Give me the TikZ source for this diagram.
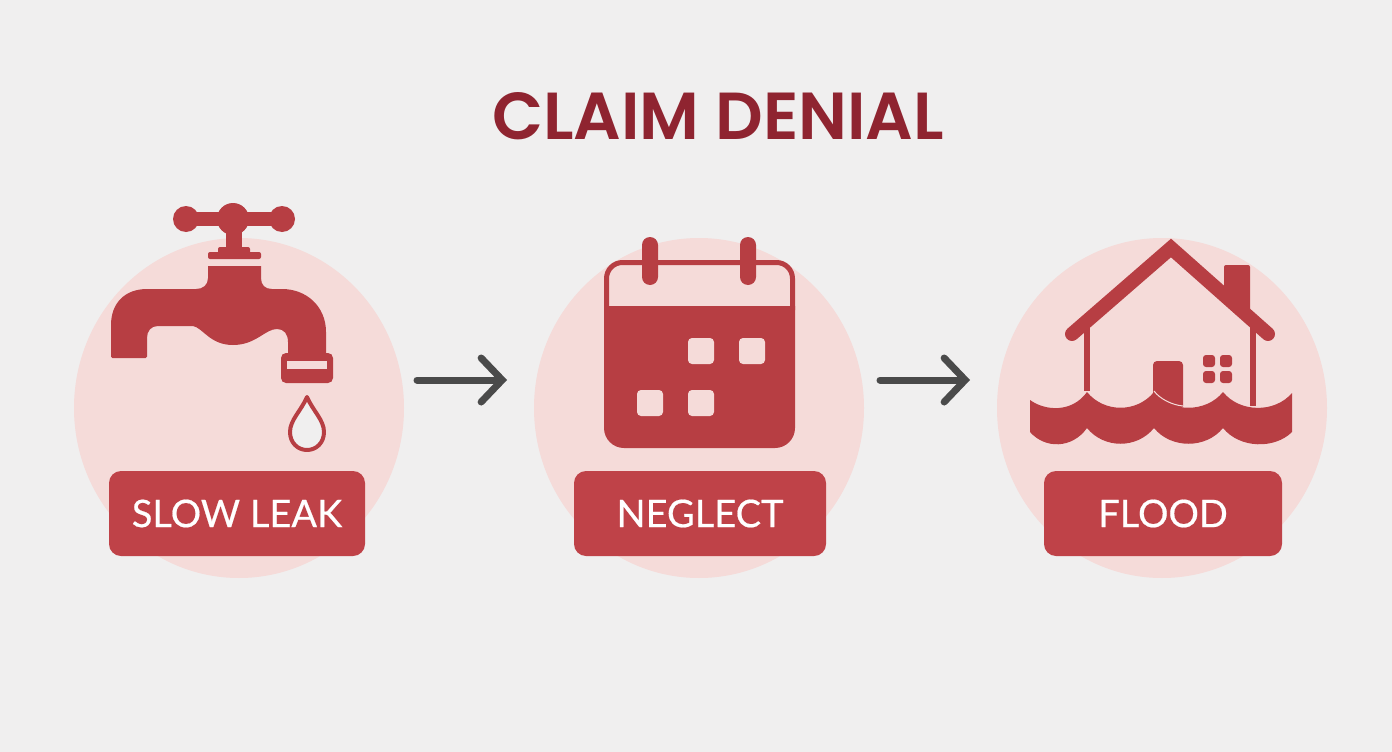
\documentclass[tikz,border=0pt]{standalone}
\usepackage{fontspec}
\setmainfont{Lato}
\newfontfamily\tagfont[FakeBold=0.5]{Lato}
\newfontfamily\titlefont{Poppins SemiBold}
\usepackage{tikz}
\usetikzlibrary{arrows.meta,shapes.geometric}
\definecolor{pagebg}{HTML}{F0EFEF}
\definecolor{disc}{HTML}{F5DBD9}
\definecolor{icon}{HTML}{B73E43}
\definecolor{tag}{HTML}{BF4248}
\definecolor{heading}{HTML}{8F2430}
\definecolor{flow}{HTML}{4A4A4A}
\tikzset{
  discnode/.style={ellipse, fill=disc, minimum width=330pt, minimum height=340pt, inner sep=0pt},
  tagnode/.style={rounded corners=12pt, fill=tag, text=white, minimum height=85pt, inner sep=0pt,
    font=\tagfont\fontsize{38}{40}\selectfont},
  flowarrow/.style={draw=flow, line width=7pt, line cap=round,
    -{Straight Barb[length=21pt, width=44pt, line cap=round, line join=miter]}},
  iconfill/.style={fill=icon, draw=none},
  holefill/.style={fill=disc, draw=none, rounded corners=4pt}
}
\begin{document}
\begin{tikzpicture}[x=1pt, y=-1pt]
  \fill[pagebg] (0,0) rectangle (1392,752);
  \useasboundingbox (0,0) rectangle (1392,752);

  \node[font=\titlefont\fontsize{66.5}{70}\selectfont, text=heading] (title) at (718,116) {CLAIM DENIAL};

  \node[discnode] (leakdisc) at (239,408) {};
  \node[discnode] (neglectdisc) at (699,408) {};
  \node[discnode] (flooddisc) at (1162,408) {};

  \node[tagnode, minimum width=256pt] (leaktag) at (237,513.5) {SLOW LEAK};
  \node[tagnode, minimum width=252pt] (neglecttag) at (700,513.5) {NEGLECT};
  \node[tagnode, minimum width=238pt] (floodtag) at (1163,513.5) {FLOOD};

  \coordinate (flowa) at (417,380);
  \coordinate (flowb) at (507,380);
  \coordinate (flowc) at (880,380);
  \coordinate (flowd) at (970,380);
  \draw[flowarrow] (flowa) -- (flowb);
  \draw[flowarrow] (flowc) -- (flowd);

  % tap
  \fill[iconfill] (186,219) circle (13) (282,219) circle (13) (233,219) circle (16);
  \fill[iconfill] (186,212) rectangle (282,226);
  \fill[iconfill] (226,225) rectangle (242,252);
  \fill[iconfill, rounded corners=2pt] (218,247) rectangle (250,255);
  \fill[iconfill, rounded corners=2pt] (208,252) rectangle (261,259);
  \fill[iconfill] (208,266) -- (208,278) .. controls (208,285) and (203,289) .. (196,289)
    -- (147,289) .. controls (125,289) and (111,303) .. (111,325) -- (111,356)
    [rounded corners=1.5pt] -- (111,358) -- (147,358) [sharp corners] -- (147,338)
    .. controls (147,331) and (151,326) .. (158,326) -- (193,326)
    .. controls (203,328) and (210,345) .. (233,345)
    .. controls (256,345) and (265,329) .. (277,329)
    .. controls (284,329) and (288,334) .. (288,342) -- (288,355) -- (326,355) -- (326,332)
    .. controls (326,306) and (306,289) .. (282,289) -- (272,289)
    .. controls (265,289) and (261,285) .. (261,278) -- (261,266) -- cycle;
  \fill[iconfill, rounded corners=5pt] (281,353) rectangle (333,383);
  \fill[holefill, rounded corners=0pt] (287,361) rectangle (327,369);
  \draw[draw=icon, line width=4pt, fill=pagebg, line join=round] (307,397)
    .. controls (301,411) and (290,420) .. (290,432)
    .. controls (290,443) and (298,450) .. (307,450)
    .. controls (316,450) and (324,443) .. (324,432)
    .. controls (324,420) and (313,411) .. (307,397) -- cycle;

  % calendar
  \draw[draw=icon, line width=5pt, rounded corners=16pt] (606.5,310) -- (606.5,262.5) -- (792.5,262.5) -- (792.5,310);
  \fill[iconfill] (604,306) -- (795,306) -- (795,428) arc[start angle=0, end angle=90, radius=20]
    -- (624,448) arc[start angle=90, end angle=180, radius=20] -- cycle;
  \fill[iconfill, rounded corners=8pt] (642,237) rectangle (658,285);
  \fill[iconfill, rounded corners=8pt] (740,237) rectangle (756,285);
  \fill[holefill] (688,338) rectangle (714,364);
  \fill[holefill] (739,338) rectangle (765,364);
  \fill[holefill] (637,390) rectangle (663,416);
  \fill[holefill] (688,390) rectangle (714,416);

  % house
  \fill[iconfill, rounded corners=2pt] (1224,290) -- (1224,265) -- (1250,265) -- (1250,315) -- cycle;
  \draw[draw=icon, line width=14pt, line cap=round, line join=miter] (1072,334) -- (1171,248) -- (1268,334);
  \fill[iconfill] (1084,328) rectangle (1090,391);
  \fill[iconfill] (1250,326) rectangle (1256,406);
  \fill[iconfill, rounded corners=4pt] (1153,398) -- (1153,361) -- (1183,361) -- (1183,410) -- cycle;
  \foreach \wx in {1203,1220} \foreach \wy in {355,371}
    \fill[iconfill, rounded corners=3pt] (\wx,\wy) rectangle ++(12,12);
  \fill[iconfill] (1030,400)
    .. controls (1045,411) and (1072,413) .. (1087,392)
    .. controls (1104,413) and (1137,413) .. (1154,392)
    .. controls (1171,413) and (1206,413) .. (1223,392)
    .. controls (1240,413) and (1275,413) .. (1292,393)
    -- (1292,432)
    .. controls (1275,449) and (1240,449) .. (1223,428)
    .. controls (1206,449) and (1171,449) .. (1154,428)
    .. controls (1137,449) and (1104,449) .. (1087,428)
    .. controls (1072,449) and (1045,449) .. (1030,432) -- cycle;
  \draw[draw=disc, line width=1pt] (1154,391) .. controls (1160,399) and (1172,405) .. (1183,406);
\end{tikzpicture}
\end{document}
